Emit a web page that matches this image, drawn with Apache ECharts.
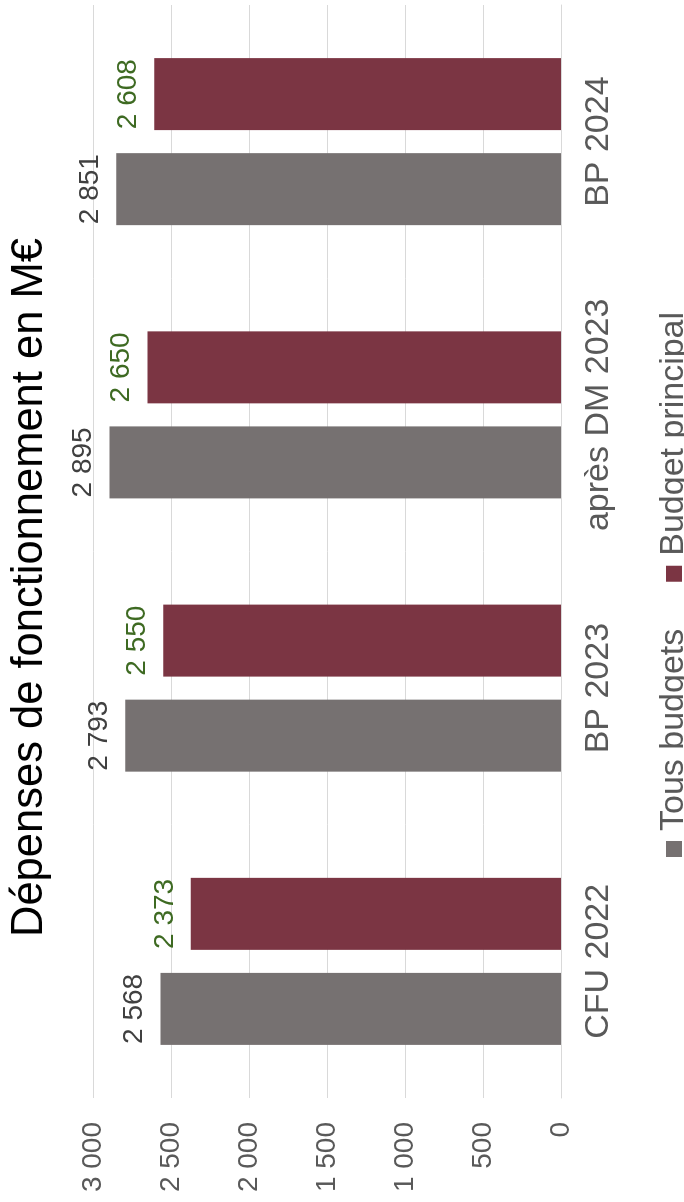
<!DOCTYPE html>
<html>
<head>
<meta charset="utf-8">
<script src="https://cdn.jsdelivr.net/npm/echarts@6/dist/echarts.min.js"></script>
<style>
  html, body { margin: 0; padding: 0; background: #ffffff; overflow: hidden; }
  body { width: 684px; height: 1202px; position: relative; }
  /* The chart is laid out landscape, then turned a quarter-turn counter-clockwise */
  #chart {
    position: absolute; left: 0; top: 0;
    width: 1202px; height: 684px;
    transform-origin: 0 0;
    transform: translateY(1202px) rotate(-90deg);
  }
</style>
</head>
<body>
<div id="chart"></div>
<script>
const categories = ['CFU 2022', 'BP 2023', 'après DM 2023', 'BP 2024'];
const tousBudgets = [2568, 2793, 2895, 2851];
const budgetPrincipal = [2373, 2550, 2650, 2608];
const yTicks = [0, 500, 1000, 1500, 2000, 2500, 3000];

const FONT = '"Liberation Sans", Arial, sans-serif';
const fmt = v => String(v).replace(/\B(?=(\d{3})+(?!\d))/g, ' ');

const chart = echarts.init(document.getElementById('chart'), null, { renderer: 'canvas' });
chart.setOption({
  animation: false,
  backgroundColor: '#ffffff',
  textStyle: { fontFamily: FONT },
  title: {
    text: 'Dépenses de fonctionnement en M€',
    left: 260, top: 3,
    textStyle: { fontFamily: FONT, fontSize: 43.5, fontWeight: 'normal', color: '#000000' }
  },
  legend: {
    data: ['Tous budgets', 'Budget principal'],
    left: 340, top: 652,
    itemWidth: 16, itemHeight: 16, itemGap: 47,
    icon: 'rect',
    textStyle: { fontFamily: FONT, fontSize: 34, color: '#595959', padding: [0, 0, 0, 5] }
  },
  grid: { left: 104, right: 5, top: 93, bottom: 123, containLabel: false },
  xAxis: {
    type: 'category',
    data: categories,
    axisTick: { show: false },
    axisLine: { show: true, lineStyle: { color: '#d9d9d9', width: 1 } },
    axisLabel: { interval: 0, fontFamily: FONT, fontSize: 34, color: '#595959', margin: 21 }
  },
  yAxis: {
    type: 'value',
    min: yTicks[0], max: yTicks[yTicks.length - 1], interval: yTicks[1] - yTicks[0],
    axisLine: { show: false },
    axisTick: { show: false },
    splitLine: { lineStyle: { color: '#d9d9d9', width: 1 } },
    axisLabel: { fontFamily: FONT, fontSize: 28, color: '#595959', margin: 24, formatter: fmt }
  },
  series: [
    {
      name: 'Tous budgets',
      type: 'bar',
      data: tousBudgets,
      barWidth: 72,
      barGap: '32%',
      itemStyle: { color: '#767171' },
      label: {
        show: true, position: 'top', distance: 12,
        fontFamily: FONT, fontSize: 28, color: '#404040',
        formatter: p => fmt(p.value)
      }
    },
    {
      name: 'Budget principal',
      type: 'bar',
      data: budgetPrincipal,
      barWidth: 72,
      barGap: '32%',
      itemStyle: { color: '#7b3543' },
      label: {
        show: true, position: 'top', distance: 12,
        fontFamily: FONT, fontSize: 28, color: '#3e6a22',
        formatter: p => fmt(p.value)
      }
    }
  ]
});
</script>
</body>
</html>
